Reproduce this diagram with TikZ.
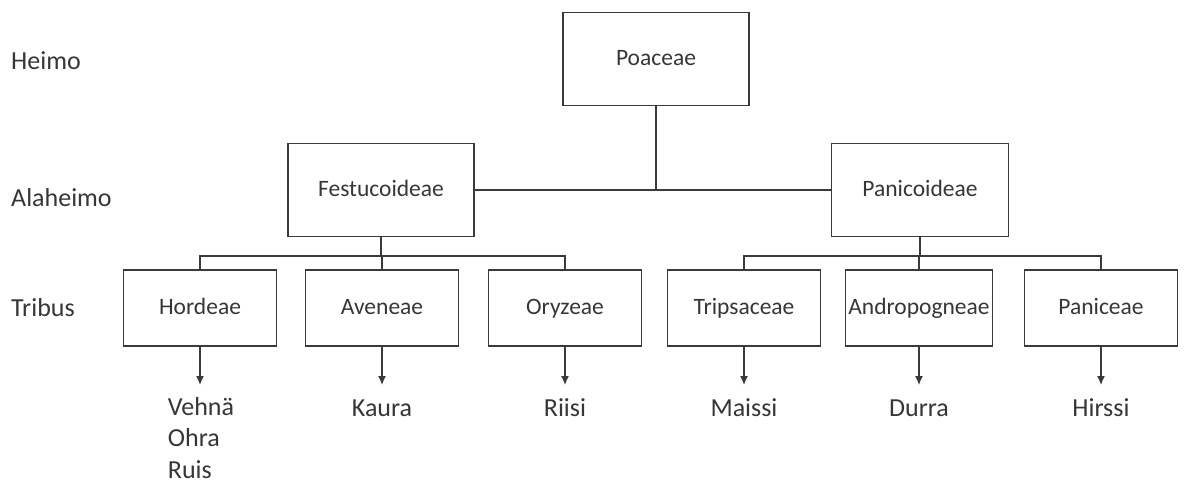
\documentclass[tikz,border=0pt]{standalone}
\usepackage{fontspec}
\setmainfont{Carlito}
\usetikzlibrary{arrows.meta}
\definecolor{darkline}{HTML}{3A3A3A}
\definecolor{labeltext}{HTML}{363636}
\begin{document}
\begin{tikzpicture}[x=1pt,y=-1pt,
		box/.style={draw=darkline, line width=1.3pt, text=labeltext, inner sep=0, text height=16pt, text depth=3pt, font=\fontsize{23.5}{28}\selectfont},
		family/.style={box, minimum width=186pt, minimum height=93pt},
		tribe/.style={box, minimum width=153pt, minimum height=76pt},
		rank/.style={anchor=west, inner sep=0, text=labeltext, font=\fontsize{26}{30}\selectfont},
		crop/.style={anchor=north, inner sep=0, text=labeltext, align=left, font=\fontsize{26}{31.5}\selectfont, execute at begin node={\rule{0pt}{18pt}}},
		tree/.style={darkline, line width=1.3pt},
		arrow/.style={tree, -{Latex[length=9pt,width=8pt]}, shorten >=13pt}]
		\useasboundingbox (0,0) rectangle (1184,485);
		% ranks
		\node[rank] (heimo) at (11,61) {Heimo};
		\node[rank] (alaheimo) at (11,198) {Alaheimo};
		\node[rank] (tribus) at (11,308) {Tribus};
		% family and subfamilies
		\node[family] (poaceae) at (656,59) {Poaceae};
		\node[family] (festucoideae) at (381,190) {Festucoideae};
		\node[family, minimum width=177pt] (panicoideae) at (920,190) {Panicoideae};
		% tribes
		\node[tribe] (hordeae) at (200,308) {Hordeae};
		\node[tribe] (aveneae) at (382,308) {Aveneae};
		\node[tribe] (oryzeae) at (565,308) {Oryzeae};
		\node[tribe] (tripsaceae) at (744,308) {Tripsaceae};
		\node[tribe, minimum width=147pt] (andropogneae) at (919,308) {Andropogneae};
		\node[tribe] (paniceae) at (1101,308) {Paniceae};
		% crops
		\node[crop] (vehna) at (201,397) {Vehnä\\Ohra\\Ruis};
		\node[crop] (kaura) at (382,398) {Kaura};
		\node[crop] (riisi) at (565,398) {Riisi};
		\node[crop] (maissi) at (744,398) {Maissi};
		\node[crop] (durra) at (919,398) {Durra};
		\node[crop] (hirssi) at (1101,398) {Hirssi};
		\draw[tree] (festucoideae.east) -- (panicoideae.west);
		\draw[tree] (poaceae.south) -- (poaceae |- festucoideae.east);
		\coordinate (leftbus) at (381,256);
		\coordinate (rightbus) at (920,256);
		\draw[tree] (festucoideae.south) -- (leftbus);
		\draw[tree] (hordeae.north) |- (leftbus) -| (oryzeae.north);
		\draw[tree] (leftbus -| aveneae.north) -- (aveneae.north);
		\draw[tree] (panicoideae.south) -- (rightbus);
		\draw[tree] (tripsaceae.north) |- (rightbus) -| (paniceae.north);
		\draw[tree] (rightbus -| andropogneae.north) -- (andropogneae.north);
		\foreach \tribe/\crop in {hordeae/vehna, aveneae/kaura, oryzeae/riisi, tripsaceae/maissi, andropogneae/durra, paniceae/hirssi}
			\draw[arrow] (\tribe.south) -- (\tribe.south |- kaura.north);
	\end{tikzpicture}
\end{document}
